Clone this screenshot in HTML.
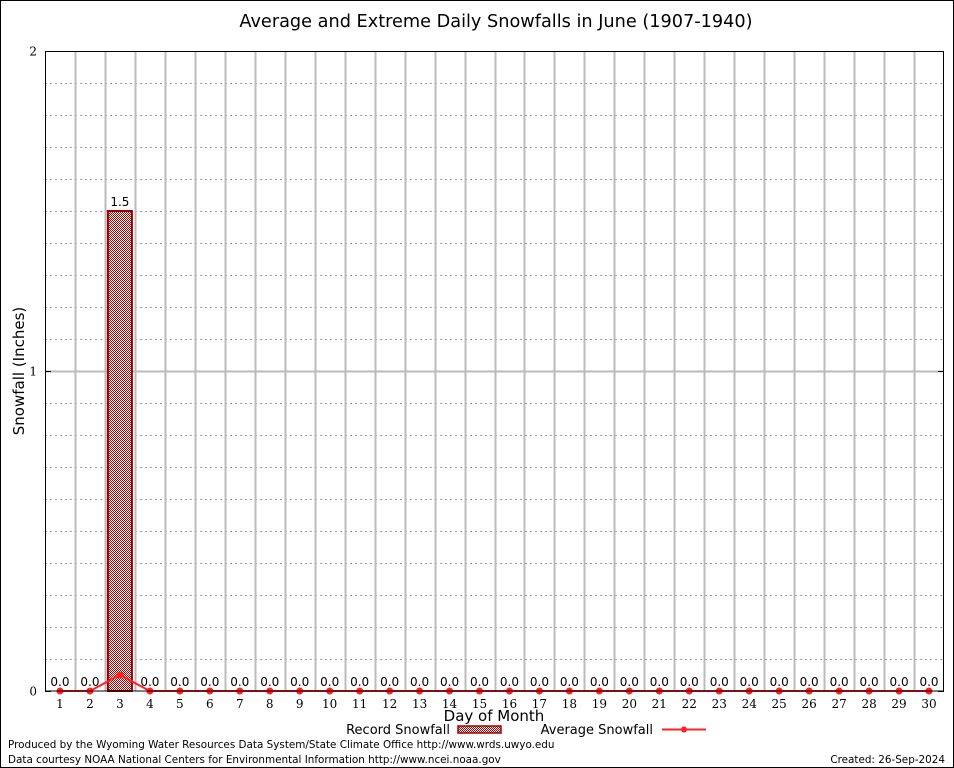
<!DOCTYPE html>
<html><head><meta charset="utf-8"><style>
body{margin:0;background:#fff}
svg{display:block}
.s{font-family:"DejaVu Sans","Liberation Sans",sans-serif}
.t{font-family:"DejaVu Serif","Liberation Serif",serif}
</style></head><body>
<svg id="chart" width="954" height="768" viewBox="0 0 954 768" xmlns="http://www.w3.org/2000/svg">
<defs>
<pattern id="chk" width="2" height="2" patternUnits="userSpaceOnUse">
<rect width="2" height="2" fill="#fff"/><rect width="1" height="1" fill="#c00000"/><rect x="1" y="1" width="1" height="1" fill="#c00000"/>
</pattern>
</defs>
<rect x="0.5" y="0.5" width="953" height="767" fill="#fff" stroke="#000"/>
<text x="496" y="27" text-anchor="middle" class="s" font-size="17.7">Average and Extreme Daily Snowfalls in June (1907-1940)</text>
<g id="grid"></g>
<g id="marks"></g>
<rect x="45.5" y="51.5" width="898" height="639.5" fill="none" stroke="#000"/>
<text transform="translate(24,371) rotate(-90)" text-anchor="middle" class="s" font-size="15">Snowfall (Inches)</text>
<text x="494" y="721" text-anchor="middle" class="s" font-size="15">Day of Month</text>
<g>
<text x="450" y="734" text-anchor="end" class="s" font-size="13">Record Snowfall</text>
<rect x="458" y="726" width="43" height="7" fill="url(#chk)" stroke="#9b0000" stroke-width="1.5"/>
<text x="653" y="734" text-anchor="end" class="s" font-size="13">Average Snowfall</text>
<line x1="662" y1="729.5" x2="706" y2="729.5" stroke="#ff2020" stroke-width="2"/>
<circle cx="684" cy="729.5" r="3" fill="#ff2020"/>
</g>
<text x="8" y="748" class="s" font-size="10.4">Produced by the Wyoming Water Resources Data System/State Climate Office http://www.wrds.uwyo.edu</text>
<text x="8" y="763" class="s" font-size="10.4">Data courtesy NOAA National Centers for Environmental Information http://www.ncei.noaa.gov</text>
<text x="945" y="763" text-anchor="end" class="s" font-size="10.4">Created:  26-Sep-2024</text>
</svg>
<script>
const days = [1,2,3,4,5,6,7,8,9,10,11,12,13,14,15,16,17,18,19,20,21,22,23,24,25,26,27,28,29,30];
const recordSnow = [0,0,1.5,0,0,0,0,0,0,0,0,0,0,0,0,0,0,0,0,0,0,0,0,0,0,0,0,0,0,0];
const avgSnow = [0,0,0.05,0,0,0,0,0,0,0,0,0,0,0,0,0,0,0,0,0,0,0,0,0,0,0,0,0,0,0];
const yTicks = [0,1,2];
const NS="http://www.w3.org/2000/svg";
const X0=45,X1=944,Y0=691,Y1=51,YMAX=2;
const step=(X1-X0)/days.length;
const x=d=>X0+(d-0.5)*step;
const y=v=>Y0-(v/YMAX)*(Y0-Y1);
function mk(tag,attrs,parent,txt){const e=document.createElementNS(NS,tag);for(const k in attrs)e.setAttribute(k,attrs[k]);if(txt!==undefined)e.textContent=txt;parent.appendChild(e);return e;}
const grid=document.getElementById('grid'),marks=document.getElementById('marks');
for(let v=0.1;v<YMAX-0.001;v+=0.1){
  if(Math.abs(v-Math.round(v))<0.001)continue;
  const l=mk('line',{x1:X0,x2:X1,y1:Math.round(y(v))+0.5,y2:Math.round(y(v))+0.5,stroke:'#999','stroke-dasharray':'2,3'},grid);
  
  
}
yTicks.forEach(v=>{
  const yy=Math.round(y(v))+0.5;
  if(v>0&&v<YMAX){const l=mk('line',{x1:X0,x2:X1,y1:yy,y2:yy,stroke:'#bbb','stroke-width':2},grid);
  
  }
  const tk=mk('line',{x1:X0,x2:X0+6,y1:yy,y2:yy,stroke:'#000'},grid);
  
  
  const tk2=mk('line',{x1:X1-6,x2:X1,y1:yy,y2:yy,stroke:'#000'},grid);
  
  
  const t=mk('text',{x:37,y:yy+4,'text-anchor':'end',class:'t','font-size':12},grid,String(v));
  
  
});
for(let i=1;i<days.length;i++){
  const xx=Math.round(X0+i*step)+0.5;
  const l=mk('line',{x1:xx,x2:xx,y1:Y1,y2:Y0,stroke:'#bbb','stroke-width':2},grid);
  
  
}
days.forEach((d,i)=>{
  const cx=x(d);
  const t=mk('text',{x:cx,y:708,'text-anchor':'middle',class:'t','font-size':12},grid,String(d));
  
  
  const r=recordSnow[i];
  if(r>0){
    const b=mk('rect',{x:cx-12,y:y(r),width:24,height:Y0-y(r),fill:'url(#chk)',stroke:'#9b0000','stroke-width':2},marks);
    
    
  }
  const lab=mk('text',{x:cx,y:y(r)-5,'text-anchor':'middle',class:'s','font-size':12},marks,r.toFixed(1));
  
  
});
const pts=days.map((d,i)=>x(d)+','+y(avgSnow[i])).join(' ');
const pl=mk('polyline',{points:pts,fill:'none',stroke:'#ff2020','stroke-width':2},marks);


days.forEach((d,i)=>{
  const c=mk('circle',{cx:x(d),cy:y(avgSnow[i]),r:3.5,fill:'#ff2020'},marks);
  
  
});
</script>
</body></html>
